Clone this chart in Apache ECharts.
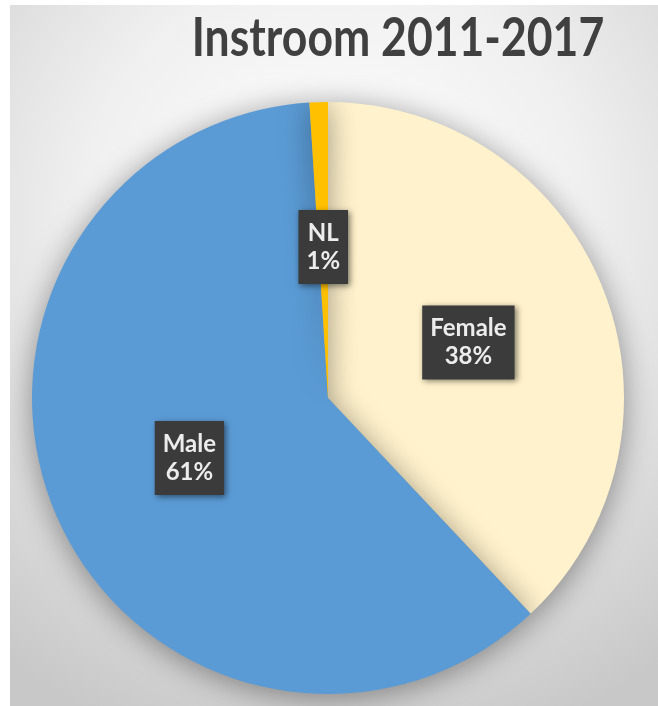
<!DOCTYPE html>
<html>
<head>
<meta charset="utf-8">
<script src="https://cdn.jsdelivr.net/npm/echarts@6/dist/echarts.min.js"></script>
<style>
html,body{margin:0;padding:0;background:#ffffff;width:658px;height:706px;overflow:hidden;}
#chart{position:absolute;left:10px;top:5px;width:648px;height:701px;}
</style>
</head>
<body>
<div id="chart"></div>
<script>
const titleText = 'Instroom 2011-2017';
const categories = ['Female', 'Male', 'NL'];
const values = [38, 61, 1];
const colors = ['#FFF2CC', '#5B9BD5', '#FFC000'];

const chart = echarts.init(document.getElementById('chart'), null, {renderer: 'canvas'});
chart.setOption({
  animation: false,
  backgroundColor: {
    type: 'radial', x: 0.5, y: 0.3, r: 0.85,
    colorStops: [
      {offset: 0, color: '#ffffff'},
      {offset: 0.45, color: '#f0f0f0'},
      {offset: 1, color: '#c8c8c8'}
    ]
  },
  graphic: [{
    type: 'text',
    x: 388,
    y: 7,
    scaleX: 0.84,
    style: {
      text: titleText,
      fontFamily: 'Lato',
      fontWeight: 'bold',
      fontSize: 53,
      fill: '#404040',
      textAlign: 'center',
      textVerticalAlign: 'top'
    }
  }],
  series: [{
    type: 'pie',
    center: [318, 393],
    radius: [0, 296],
    startAngle: 90,
    clockwise: true,
    data: categories.map((c, i) => ({name: c, value: values[i], itemStyle: {color: colors[i]}})),
    itemStyle: {shadowBlur: 30, shadowColor: 'rgba(0,0,0,0.4)', shadowOffsetX: 0, shadowOffsetY: 4},
    label: {
      show: true,
      position: 'inside',
      formatter: p => p.name + '\n' + Math.round(p.percent) + '%',
      fontFamily: 'Lato',
      fontWeight: 'bold',
      fontSize: 24,
      lineHeight: 28,
      color: '#ececec',
      backgroundColor: '#3b3b3b',
      padding: [9, 8, 9, 8],
      shadowBlur: 6,
      shadowColor: 'rgba(0,0,0,0.5)',
      shadowOffsetX: 2,
      shadowOffsetY: 2
    },
    labelLine: {show: false},
    emphasis: {disabled: true}
  }]
});
</script>
</body>
</html>
